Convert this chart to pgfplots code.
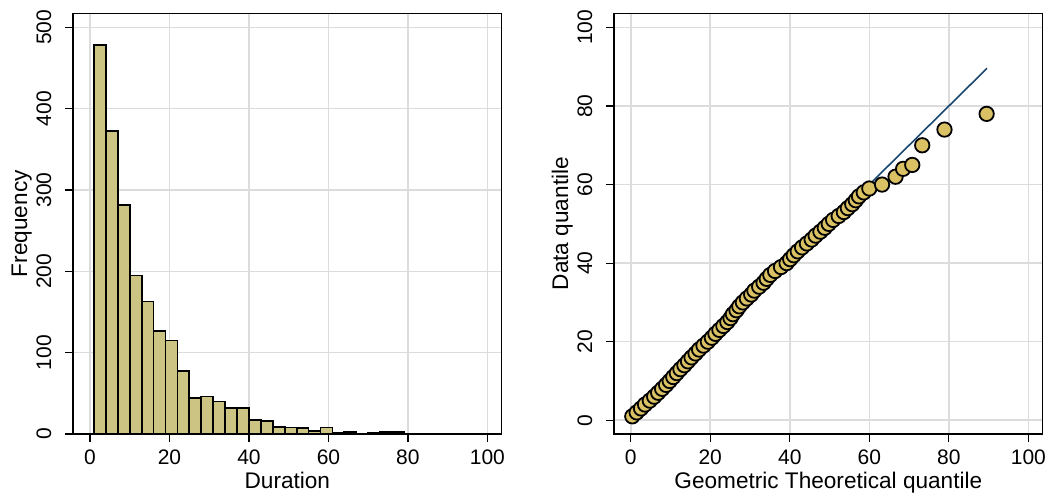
\documentclass[border=0pt]{standalone}
\usepackage{fontspec}
\setmainfont{Liberation Sans}
\usepackage{pgfplots}
\pgfplotsset{compat=1.18}
\definecolor{barfill}{RGB}{204,196,130}
\definecolor{mkfill}{RGB}{218,193,100}
\definecolor{navyc}{RGB}{26,71,111}
\definecolor{gridc}{RGB}{220,220,220}
\pgfplotsset{stata/.style={
  scale only axis,
  width=214.35pt, height=210.35pt,
  axis line style={black, line width=0.65pt},
  xtick pos=bottom, ytick pos=left,
  tick align=outside, major tick length=4pt,
  tick style={black, line width=0.6pt},
  grid=major, major grid style={gridc, line width=0.8pt},
  /pgf/number format/assume math mode=true,
  ticklabel style={font=\fontsize{10.5}{12}\selectfont},
  label style={font=\fontsize{11.3}{13}\selectfont},
  xticklabel style={anchor=north, inner sep=0pt},
  xticklabel shift=3.65pt,
  yticklabel style={rotate=90, anchor=south, inner sep=0pt},
  yticklabel shift=6.65pt,
  xlabel style={at={(axis description cs:0.5,-0.129)}, anchor=base, inner sep=0pt},
  ylabel style={at={(axis description cs:-0.1073,0.5)}, anchor=base, inner sep=0pt},
}}
\begin{document}
\begin{tikzpicture}
\useasboundingbox (0,0) rectangle (527pt,246.5pt);
% Histogram
\begin{axis}[stata, at={(36.5pt,29.5pt)}, anchor=south west,
  xmin=-4.28, xmax=103.6, ymin=0, ymax=517.3,
  xtick={0,20,...,100}, ytick={0,100,...,500},
  xlabel={Duration}, ylabel={Frequency}]
\addplot[ybar, bar width=3, bar shift=0pt, fill=barfill, draw=black, line width=0.9pt]
coordinates {
(2.5,478) (5.5,373) (8.5,282) (11.5,195) (14.5,163) (17.5,127) (20.5,115)
(23.5,77) (26.5,44) (29.5,46) (32.5,40) (35.5,32) (38.5,32) (41.5,17)
(44.5,16) (47.5,9) (50.5,8) (53.5,7) (56.5,4) (59.5,8) (62.5,1) (65.5,2)
(71.5,1) (74.5,2) (77.5,2)
};
\end{axis}
% QQ plot
\begin{axis}[stata, at={(307pt,29.5pt)}, anchor=south west,
  xmin=-4.2, xmax=103.6, ymin=-3.5, ymax=103.6,
  xtick={0,20,...,100}, ytick={0,20,...,100},
  xlabel={Geometric Theoretical quantile}, ylabel={Data quantile}]
\addplot[navyc, line width=0.8pt] coordinates {(0.4,0.4) (89.6,89.6)};
\addplot[only marks, mark=*, mark size=3.6pt,
  mark options={fill=mkfill, draw=black, line width=0.9pt}]
coordinates {
(0.4,1) (1.5,2) (2.6,3) (3.6,4) (4.8,5) (5.9,6) (6.9,7) (7.9,8) (8.9,9)
(9.8,10) (10.7,11) (11.6,12) (12.5,13) (13.5,14) (14.4,15) (15.3,16)
(16.3,17) (17.2,18) (18.3,19) (19.4,20) (20.4,21) (21.3,22) (22.3,23)
(23.3,24) (24.3,25) (25.1,26) (25.7,27) (26.6,28) (27.3,29) (28.2,30)
(29.2,31) (30.3,32) (31.1,33) (32.3,34) (33.4,35) (34.2,36) (35.1,37)
(36.3,38) (37.8,39) (39.2,40) (40.1,41) (41.0,42) (42.0,43) (43.1,44)
(44.3,45) (45.5,46) (46.5,47) (47.7,48) (48.8,49) (49.8,50) (50.9,51)
(52.3,52) (53.6,53) (54.6,54) (55.7,55) (56.6,56) (57.4,57) (58.6,58)
(60.0,59) (63.2,60) (66.6,62) (68.5,64) (70.8,65) (73.3,70) (78.9,74)
(89.5,78)
};
\end{axis}
\end{tikzpicture}
\end{document}
